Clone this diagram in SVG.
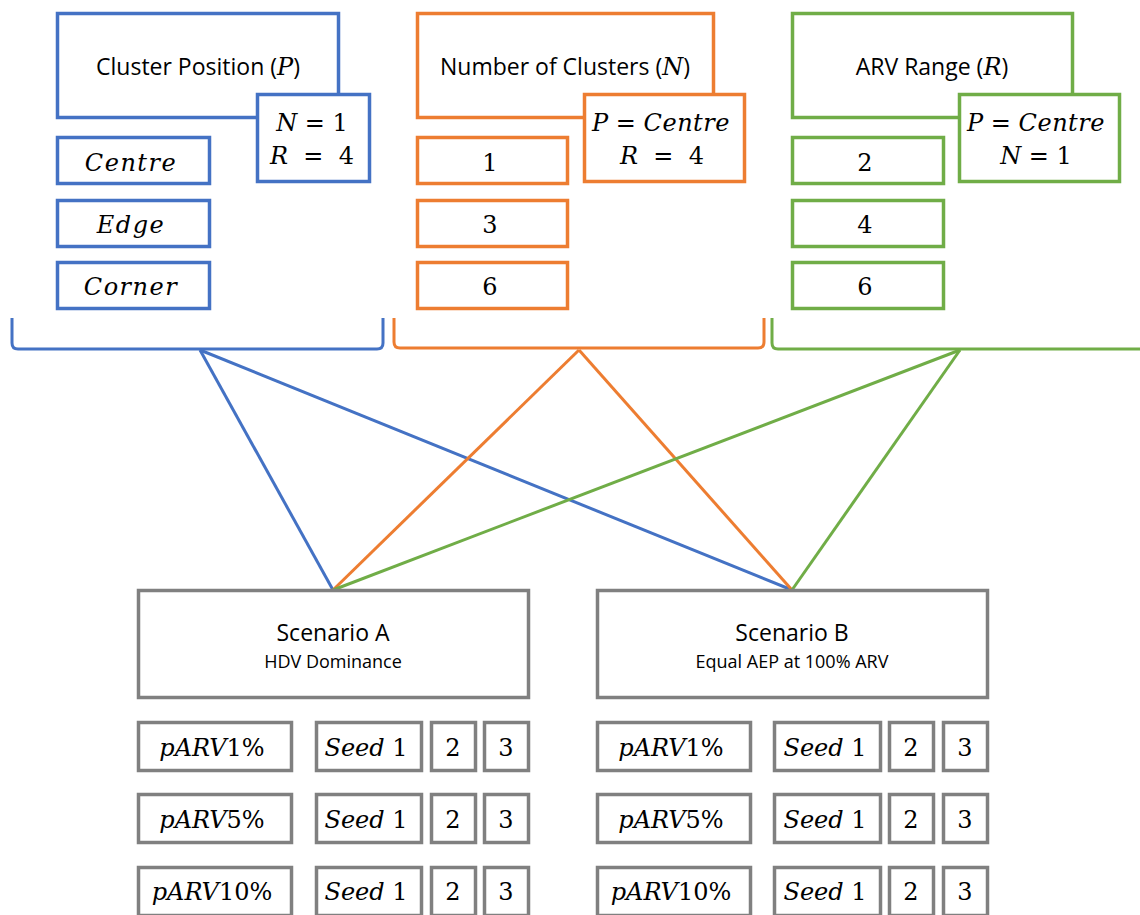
<svg xmlns="http://www.w3.org/2000/svg" width="1140" height="915" viewBox="0 0 1140 915">
<style>
.b{fill:#fff;stroke:#4472C4;stroke-width:3.5}
.o{fill:#fff;stroke:#ED7D31;stroke-width:3.5}
.g{fill:#fff;stroke:#70AD47;stroke-width:3.5}
.k{fill:#fff;stroke:#808080;stroke-width:3.5}
.t{font-family:"Open Sans","Noto Sans",sans-serif;font-size:23px;fill:#000;text-anchor:middle}
.s{font-family:"Open Sans","Noto Sans",sans-serif;font-size:18px;fill:#000;text-anchor:middle}
.m{font-family:"DejaVu Serif","Liberation Serif",serif;font-size:24px;fill:#000;text-anchor:middle}
.i{font-style:italic}
</style>
<g id="connectors" fill="none" stroke-width="3">
<path d="M12,318 V343 Q12,349 18,349 H377 Q383,349 383,343 V318" stroke="#4472C4"/>
<path d="M394,318 V342 Q394,348 400,348 H758 Q764,348 764,342 V318" stroke="#ED7D31"/>
<path d="M772,318 V343 Q772,349 778,349 H1140" stroke="#70AD47"/>
<line x1="200" y1="350" x2="333" y2="590" stroke="#4472C4"/>
<line x1="200" y1="350" x2="792" y2="590" stroke="#4472C4"/>
<line x1="579" y1="350" x2="333" y2="590" stroke="#ED7D31"/>
<line x1="579" y1="350" x2="792" y2="590" stroke="#ED7D31"/>
<line x1="960" y1="350" x2="333" y2="590" stroke="#70AD47"/>
<line x1="960" y1="350" x2="792" y2="590" stroke="#70AD47"/>
</g>
<g id="position">
<rect class="b" x="57.5" y="13.5" width="281" height="104"/>
<text class="t" x="198" y="75">Cluster Position (<tspan class="m i" font-size="24">P</tspan>)</text>
<rect class="b" x="257.5" y="94.5" width="112" height="87"/>
<text class="m" x="312" y="131"><tspan class="i">N</tspan> = 1</text>
<text class="m" x="312" y="164" xml:space="preserve"><tspan class="i">R</tspan>  =  4</text>
</g>
<g id="pos-centre"><rect class="b" x="57.5" y="137.5" width="152" height="46"/><text class="m i" x="131" y="171" letter-spacing="1.5">Centre</text></g>
<g id="pos-edge"><rect class="b" x="57.5" y="200.5" width="152" height="46"/><text class="m i" x="131" y="233" letter-spacing="1.5">Edge</text></g>
<g id="pos-corner"><rect class="b" x="57.5" y="262.5" width="152" height="46"/><text class="m i" x="131" y="295" letter-spacing="1.5">Corner</text></g>
<g id="number">
<rect class="o" x="417.5" y="13.5" width="296" height="104"/>
<text class="t" x="565" y="75">Number of Clusters (<tspan class="m i" font-size="24">N</tspan>)</text>
<rect class="o" x="584.5" y="94.5" width="160" height="87"/>
<text class="m" x="661" y="131"><tspan class="i">P</tspan> = <tspan class="i" letter-spacing="0.5">Centre</tspan></text>
<text class="m" x="662" y="164" xml:space="preserve"><tspan class="i">R</tspan>  =  4</text>
</g>
<g id="num-1"><rect class="o" x="417.5" y="137.5" width="150" height="46"/><text class="m" x="490" y="171">1</text></g>
<g id="num-3"><rect class="o" x="417.5" y="200.5" width="150" height="46"/><text class="m" x="490" y="233">3</text></g>
<g id="num-6"><rect class="o" x="417.5" y="262.5" width="150" height="46"/><text class="m" x="490" y="295">6</text></g>
<g id="range">
<rect class="g" x="792.5" y="13.5" width="280" height="104"/>
<text class="t" x="932" y="75">ARV Range (<tspan class="m i" font-size="24">R</tspan>)</text>
<rect class="g" x="959.5" y="94.5" width="160" height="87"/>
<text class="m" x="1036" y="131"><tspan class="i">P</tspan> = <tspan class="i" letter-spacing="0.5">Centre</tspan></text>
<text class="m" x="1036" y="164"><tspan class="i">N</tspan> = 1</text>
</g>
<g id="rng-2"><rect class="g" x="792.5" y="137.5" width="151" height="46"/><text class="m" x="865" y="171">2</text></g>
<g id="rng-4"><rect class="g" x="792.5" y="200.5" width="151" height="46"/><text class="m" x="865" y="233">4</text></g>
<g id="rng-6"><rect class="g" x="792.5" y="262.5" width="151" height="46"/><text class="m" x="865" y="295">6</text></g>
<g id="scenarioA">
<rect class="k" x="138.5" y="590.5" width="390" height="107"/>
<text class="t" x="333" y="641" font-size="24.5">Scenario A</text>
<text class="s" x="333" y="668">HDV Dominance</text>
</g>
<g id="scenarioB">
<rect class="k" x="597.5" y="590.5" width="390" height="107"/>
<text class="t" x="792" y="641" font-size="24.5">Scenario B</text>
<text class="s" x="792" y="668">Equal AEP at 100% ARV</text>
</g>
<g id="A-rows">
<rect class="k" x="138.5" y="722.5" width="153" height="48"/><text class="m" x="212" y="756"><tspan class="i">pARV</tspan>1%</text>
<rect class="k" x="316.5" y="722.5" width="105" height="48"/><text class="m" x="366" y="756"><tspan class="i">Seed</tspan> 1</text>
<rect class="k" x="431.5" y="722.5" width="44" height="48"/><text class="m" x="453" y="756">2</text>
<rect class="k" x="484.5" y="722.5" width="44" height="48"/><text class="m" x="506" y="756">3</text>
<rect class="k" x="138.5" y="794.5" width="153" height="48"/><text class="m" x="212" y="828"><tspan class="i">pARV</tspan>5%</text>
<rect class="k" x="316.5" y="794.5" width="105" height="48"/><text class="m" x="366" y="828"><tspan class="i">Seed</tspan> 1</text>
<rect class="k" x="431.5" y="794.5" width="44" height="48"/><text class="m" x="453" y="828">2</text>
<rect class="k" x="484.5" y="794.5" width="44" height="48"/><text class="m" x="506" y="828">3</text>
<rect class="k" x="138.5" y="867.5" width="153" height="48"/><text class="m" x="212" y="900"><tspan class="i">pARV</tspan>10%</text>
<rect class="k" x="316.5" y="867.5" width="105" height="48"/><text class="m" x="366" y="900"><tspan class="i">Seed</tspan> 1</text>
<rect class="k" x="431.5" y="867.5" width="44" height="48"/><text class="m" x="453" y="900">2</text>
<rect class="k" x="484.5" y="867.5" width="44" height="48"/><text class="m" x="506" y="900">3</text>
</g>
<g id="B-rows">
<rect class="k" x="597.5" y="722.5" width="153" height="48"/><text class="m" x="671" y="756"><tspan class="i">pARV</tspan>1%</text>
<rect class="k" x="774.5" y="722.5" width="106" height="48"/><text class="m" x="825" y="756"><tspan class="i">Seed</tspan> 1</text>
<rect class="k" x="889.5" y="722.5" width="44" height="48"/><text class="m" x="911" y="756">2</text>
<rect class="k" x="943.5" y="722.5" width="44" height="48"/><text class="m" x="965" y="756">3</text>
<rect class="k" x="597.5" y="794.5" width="153" height="48"/><text class="m" x="671" y="828"><tspan class="i">pARV</tspan>5%</text>
<rect class="k" x="774.5" y="794.5" width="106" height="48"/><text class="m" x="825" y="828"><tspan class="i">Seed</tspan> 1</text>
<rect class="k" x="889.5" y="794.5" width="44" height="48"/><text class="m" x="911" y="828">2</text>
<rect class="k" x="943.5" y="794.5" width="44" height="48"/><text class="m" x="965" y="828">3</text>
<rect class="k" x="597.5" y="867.5" width="153" height="48"/><text class="m" x="671" y="900"><tspan class="i">pARV</tspan>10%</text>
<rect class="k" x="774.5" y="867.5" width="106" height="48"/><text class="m" x="825" y="900"><tspan class="i">Seed</tspan> 1</text>
<rect class="k" x="889.5" y="867.5" width="44" height="48"/><text class="m" x="911" y="900">2</text>
<rect class="k" x="943.5" y="867.5" width="44" height="48"/><text class="m" x="965" y="900">3</text>
</g>
</svg>
